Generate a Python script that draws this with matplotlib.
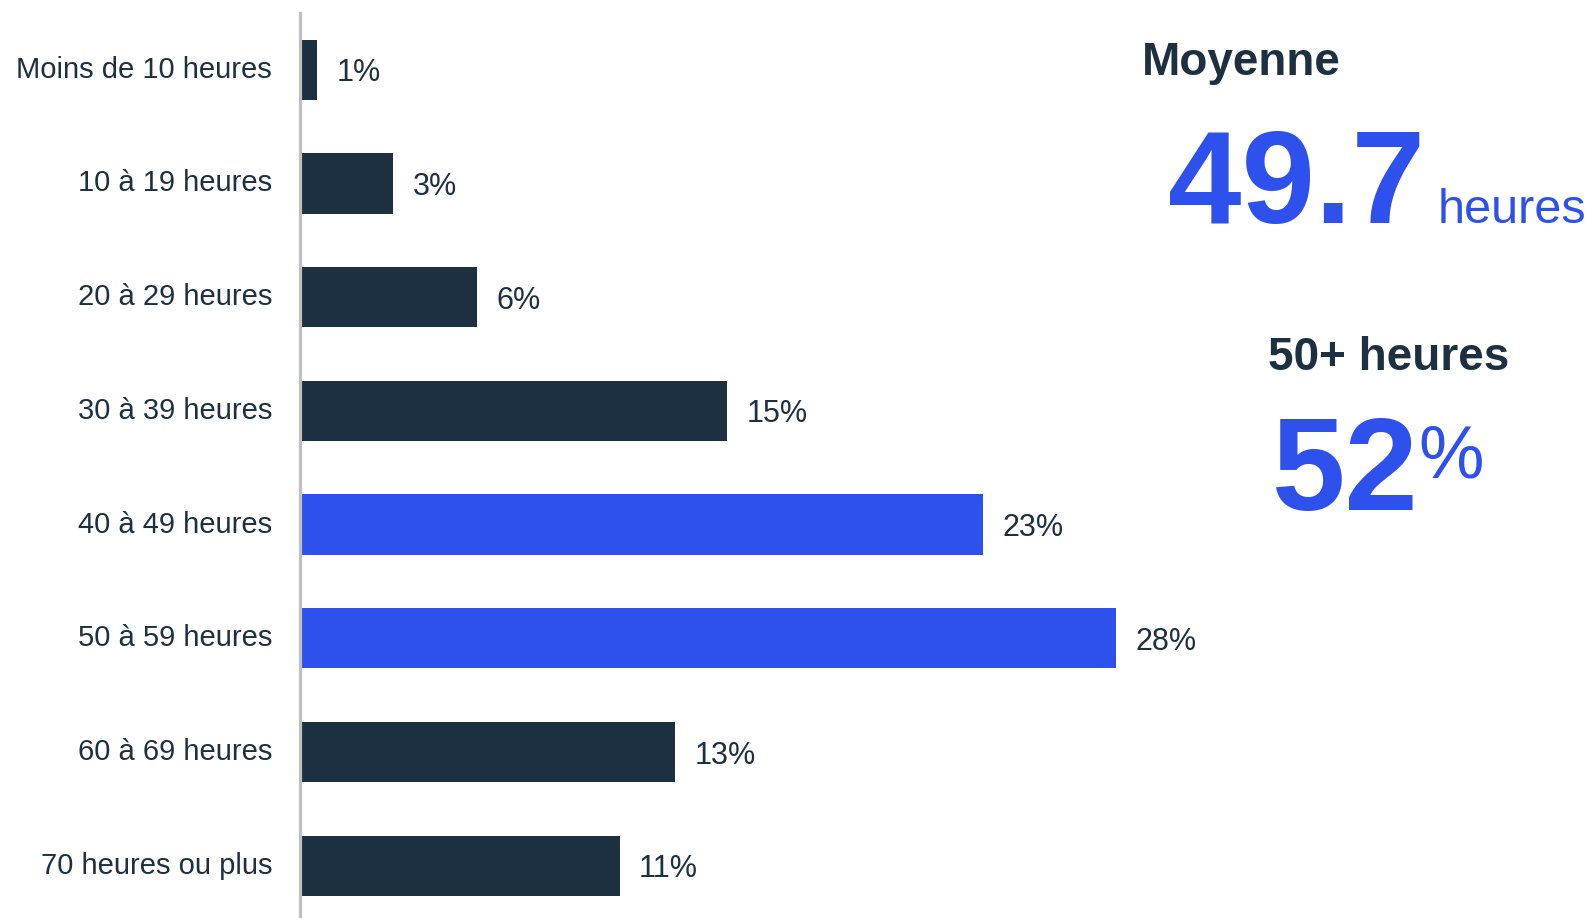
import matplotlib.pyplot as plt

plt.rcParams["font.family"] = ["Liberation Sans", "DejaVu Sans"]

# Data
categories = [
    "Moins de 10 heures",
    "10 à 19 heures",
    "20 à 29 heures",
    "30 à 39 heures",
    "40 à 49 heures",
    "50 à 59 heures",
    "60 à 69 heures",
    "70 heures ou plus",
]
values = [0.6, 3.2, 6.1, 14.7, 23.5, 28.1, 12.9, 11.0]
labels = ["1%", "3%", "6%", "15%", "23%", "28%", "13%", "11%"]
highlight = [False, False, False, False, True, True, False, False]

dark = "#1c3041"
blue = "#2e50ec"

W, H = 1590, 918
fig = plt.figure(figsize=(W / 100, H / 100), dpi=100)
ax = fig.add_axes([300 / W, -0.005, 1 - 300 / W, 0.991])

colors = [blue if h else dark for h in highlight]
y = range(len(categories))
bars = ax.barh(y, values, height=0.53, color=colors)
ax.set_ylim(7.5, -0.5)
ax.set_xlim(0, (W - 300) / 29.05)

for b, lab in zip(bars, labels):
    ax.annotate(lab, (b.get_width(), b.get_y() + b.get_height() / 2),
                xytext=(14, 0), textcoords="offset points",
                ha="left", va="center_baseline", fontsize=22, color=dark)

ax.set_yticks(list(y))
ax.set_yticklabels(categories, fontsize=21, color=dark, va="center")
ax.tick_params(axis="y", length=0, pad=20)
ax.set_xticks([])
for s in ["top", "right", "bottom"]:
    ax.spines[s].set_visible(False)
ax.spines["left"].set_color("#bfbfbf")
ax.spines["left"].set_linewidth(2.3)

# Summary callouts on the right
def ftxt(x, yb, s, **kw):
    fig.text(x / W, 1 - yb / H, s, va="baseline", ha="left", **kw)

ftxt(1142, 75, "Moyenne", fontsize=33, fontweight="bold", color=dark)
ftxt(1168, 223, "49.7", fontsize=95, fontweight="bold", color=blue)
ftxt(1438, 223, "heures", fontsize=35, color=blue)
ftxt(1268, 370, "50+ heures", fontsize=33, fontweight="bold", color=dark)
ftxt(1272, 510, "52", fontsize=95, fontweight="bold", color=blue)
ftxt(1418, 477, "%", fontsize=53, color=blue)

fig.savefig("out.png", dpi=100)
